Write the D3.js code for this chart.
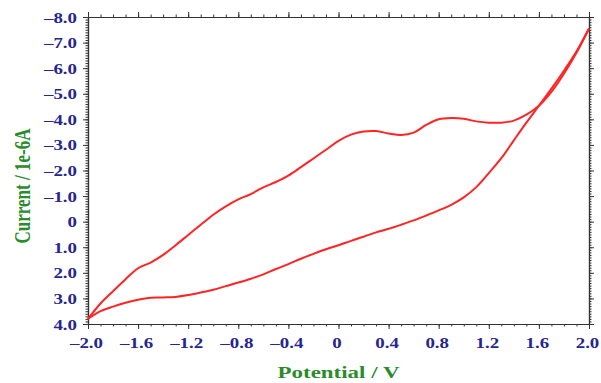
<!DOCTYPE html>
<html>
<head>
<meta charset="utf-8">
<script src="https://cdn.jsdelivr.net/npm/d3@7"></script>
<style>
  body { margin: 0; background: #fff; }
  svg { display: block; }
</style>
</head>
<body>
<div id="chart"></div>
<script>
// potential (V) and current (1e-6A)
const potential = [-2.0, -1.9, -1.8, -1.7, -1.6, -1.5, -1.4, -1.3, -1.2, -1.1, -1.0,
  -0.9, -0.8, -0.7, -0.6, -0.5, -0.4, -0.3, -0.2, -0.1, 0.0,
  0.1, 0.2, 0.3, 0.4, 0.5, 0.6, 0.7, 0.8, 0.9, 1.0,
  1.1, 1.2, 1.3, 1.4, 1.5, 1.6, 1.7, 1.8, 1.9, 2.0];
// forward scan (lower branch)
const currentForward = [3.8, 3.5, 3.32, 3.17, 3.05, 2.97, 2.96, 2.94, 2.87, 2.77, 2.66,
  2.52, 2.38, 2.23, 2.06, 1.85, 1.66, 1.45, 1.26, 1.08, 0.92,
  0.75, 0.59, 0.42, 0.28, 0.12, -0.05, -0.24, -0.44, -0.66, -0.95,
  -1.35, -1.9, -2.48, -3.18, -3.87, -4.53, -5.2, -5.9, -6.65, -7.55];
// reverse scan (upper branch), same potentials
const currentReverse = [3.8, 3.2, 2.72, 2.25, 1.82, 1.6, 1.3, 0.92, 0.52, 0.12, -0.27,
  -0.6, -0.87, -1.08, -1.34, -1.55, -1.8, -2.13, -2.47, -2.81, -3.16,
  -3.4, -3.52, -3.54, -3.45, -3.39, -3.48, -3.78, -4.0, -4.05, -4.02,
  -3.92, -3.87, -3.87, -3.95, -4.18, -4.53, -5.07, -5.78, -6.6, -7.55];

const xTicks = [-2.0, -1.6, -1.2, -0.8, -0.4, 0, 0.4, 0.8, 1.2, 1.6, 2.0];
const yTicks = [-8, -7, -6, -5, -4, -3, -2, -1, 0, 1, 2, 3, 4];

const W = 601, H = 383;
const margin = {left: 88, top: 17, right: 12, bottom: 59};
const width = W - margin.left - margin.right;
const height = H - margin.top - margin.bottom;
const stretch = 1.35;
const labelBlue = "#262690";
const titleGreen = "#2a8c2a";

const svg = d3.select("#chart").append("svg")
  .attr("width", W)
  .attr("height", H);
const g = svg.append("g")
  .attr("transform", "translate(" + margin.left + "," + margin.top + ")");

const x = d3.scaleLinear().domain([-2, 2]).range([0, width]);
const y = d3.scaleLinear().domain([-8, 4]).range([0, height]);

function fmt(v) {
  if (v === 0) return "0";
  return (v < 0 ? "\u2013" : "") + Math.abs(v).toFixed(1);
}

const minorX = d3.range(-20, 21).map(d => d / 10);
const minorY = d3.range(-80, 41).map(d => d / 10);

function styleAxis(sel) {
  sel.select(".domain").attr("stroke", "#333").attr("stroke-width", 1.2);
  sel.selectAll(".tick line").attr("stroke", "#333").attr("stroke-width", 1);
}

// minor ticks
g.append("g").attr("transform", "translate(0," + height + ")")
  .call(d3.axisBottom(x).tickValues(minorX).tickFormat("").tickSize(2.5).tickSizeOuter(0))
  .call(styleAxis);
g.append("g")
  .call(d3.axisTop(x).tickValues(minorX).tickFormat("").tickSize(2.5).tickSizeOuter(0))
  .call(styleAxis);
g.append("g")
  .call(d3.axisLeft(y).tickValues(minorY).tickFormat("").tickSize(2.5).tickSizeOuter(0))
  .call(styleAxis);
g.append("g").attr("transform", "translate(" + width + ",0)")
  .call(d3.axisRight(y).tickValues(minorY).tickFormat("").tickSize(2.5).tickSizeOuter(0))
  .call(styleAxis);

// major ticks
const xAxis = g.append("g").attr("transform", "translate(0," + height + ")")
  .call(d3.axisBottom(x).tickValues(xTicks).tickFormat(fmt).tickSize(5).tickSizeOuter(0))
  .call(styleAxis);
g.append("g")
  .call(d3.axisTop(x).tickValues(xTicks).tickFormat("").tickSize(5).tickSizeOuter(0))
  .call(styleAxis);
const yAxis = g.append("g")
  .call(d3.axisLeft(y).tickValues(yTicks).tickFormat(fmt).tickSize(5).tickSizeOuter(0))
  .call(styleAxis);
g.append("g").attr("transform", "translate(" + width + ",0)")
  .call(d3.axisRight(y).tickValues(yTicks).tickFormat("").tickSize(5).tickSizeOuter(0))
  .call(styleAxis);

xAxis.selectAll("text")
  .attr("y", 0).attr("dy", null)
  .attr("transform", "translate(-2,24) scale(" + stretch + ",1)")
  .attr("fill", labelBlue)
  .style("font-family", "'Liberation Serif', 'Times New Roman', serif")
  .style("font-weight", "bold")
  .style("font-size", "14px");

yAxis.selectAll("text")
  .attr("x", 0).attr("dy", null)
  .attr("transform", "translate(-11,5) scale(" + stretch + ",1)")
  .attr("fill", labelBlue)
  .style("font-family", "'Liberation Serif', 'Times New Roman', serif")
  .style("font-weight", "bold")
  .style("font-size", "14px");

// curves
const line = d3.line()
  .x(d => x(d[0]))
  .y(d => y(d[1]))
  .curve(d3.curveCatmullRom);

[currentForward, currentReverse].forEach(series => {
  g.append("path")
    .datum(potential.map((p, i) => [p, series[i]]))
    .attr("fill", "none")
    .attr("stroke", "#ff2424")
    .attr("stroke-width", 2)
    .attr("d", line);
});

// axis titles
svg.append("text")
  .attr("transform", "translate(" + (margin.left + width / 2) + ",378) scale(" + stretch + ",1)")
  .attr("text-anchor", "middle")
  .attr("fill", titleGreen)
  .style("font-family", "'Liberation Serif', 'Times New Roman', serif")
  .style("font-weight", "bold")
  .style("font-size", "17px")
  .text("Potential / V");

svg.append("text")
  .attr("transform", "translate(30,186) scale(" + stretch + ",1) rotate(-90)")
  .attr("text-anchor", "middle")
  .attr("fill", titleGreen)
  .style("font-family", "'Liberation Serif', 'Times New Roman', serif")
  .style("font-weight", "bold")
  .style("font-size", "17px")
  .text("Current / 1e-6A");
</script>
</body>
</html>
